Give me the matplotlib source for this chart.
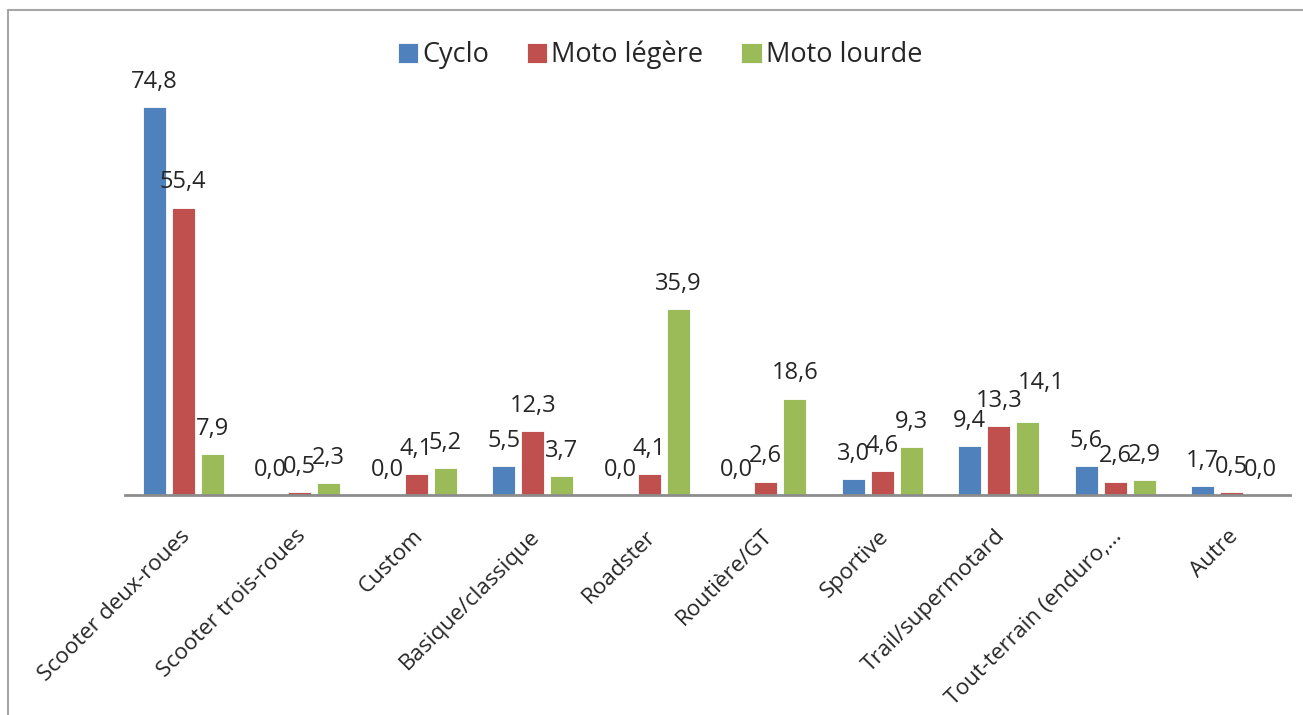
import matplotlib
matplotlib.use("Agg")
import matplotlib.pyplot as plt
import matplotlib.transforms as mtransforms
import numpy as np
from matplotlib.patches import Rectangle

categories = ["Scooter deux-roues", "Scooter trois-roues", "Custom", "Basique/classique",
              "Roadster", "Routière/GT", "Sportive", "Trail/supermotard",
              "Tout-terrain (enduro,…", "Autre"]
series_names = ["Cyclo", "Moto légère", "Moto lourde"]
cyclo = [74.8, 0.0, 0.0, 5.5, 0.0, 0.0, 3.0, 9.4, 5.6, 1.7]
moto_legere = [55.4, 0.5, 4.1, 12.3, 4.1, 2.6, 4.6, 13.3, 2.6, 0.5]
moto_lourde = [7.9, 2.3, 5.2, 3.7, 35.9, 18.6, 9.3, 14.1, 2.9, 0.0]
colors = ["#4F81BD", "#C0504D", "#9BBB59"]

plt.rcParams["font.family"] = ["Open Sans", "DejaVu Sans"]

fig = plt.figure(figsize=(13.03, 7.15), dpi=100)
# chart frame
fig.patches.append(Rectangle((8 / 1303, -0.1), 1.2, 1.1 - 10 / 715,
                             transform=fig.transFigure, fill=False,
                             edgecolor="#a6a6a6", linewidth=1.5))

ax = fig.add_axes([125 / 1303, 1 - 495 / 715, 1165 / 1303, 415 / 715])
x = np.arange(len(categories))
step = 0.249
width = 0.2
# nudges (points) for crowded data labels: (series index, category index) -> (dx, dy)
label_nudge = {(2, 7): (10, 10)}
for i, (vals, name, c) in enumerate(zip([cyclo, moto_legere, moto_lourde], series_names, colors)):
    pos = x + (i - 1) * step
    ax.bar(pos, vals, width=width, color=c, edgecolor="white", linewidth=0.6, label=name)
    for j, (p, v) in enumerate(zip(pos, vals)):
        dx, dy = label_nudge.get((i, j), (0, 0))
        ax.annotate(f"{v:.1f}".replace(".", ","), (p, v), xytext=(dx, 9.5 + dy),
                    textcoords="offset points", ha="center", va="bottom",
                    fontsize=17, color="#262626")

ax.set_xlim(-0.5, len(categories) - 0.5)
ax.set_ylim(0, 80)
ax.set_yticks([])
for s in ["top", "right", "left"]:
    ax.spines[s].set_visible(False)
ax.spines["bottom"].set_color("#8c8c8c")
ax.spines["bottom"].set_linewidth(2)
ax.set_xticks(x)
ax.set_xticklabels(categories, rotation=45, ha="right", va="top",
                   rotation_mode="anchor", fontsize=16.2, color="#262626")
ax.tick_params(axis="x", length=0, pad=22)
shift = mtransforms.ScaledTranslation(-4 / 100, 0, fig.dpi_scale_trans)
for lbl in ax.get_xticklabels():
    lbl.set_transform(lbl.get_transform() + shift)

leg = ax.legend(loc="center", bbox_to_anchor=(535 / 1165, (495 - 55) / 415), ncol=3,
                frameon=False, fontsize=19.5, handlelength=0.75, handleheight=0.75,
                handletextpad=0.15, columnspacing=1.4)
for t in leg.get_texts():
    t.set_color("#262626")

fig.savefig("out.png", dpi=100, facecolor="white")
